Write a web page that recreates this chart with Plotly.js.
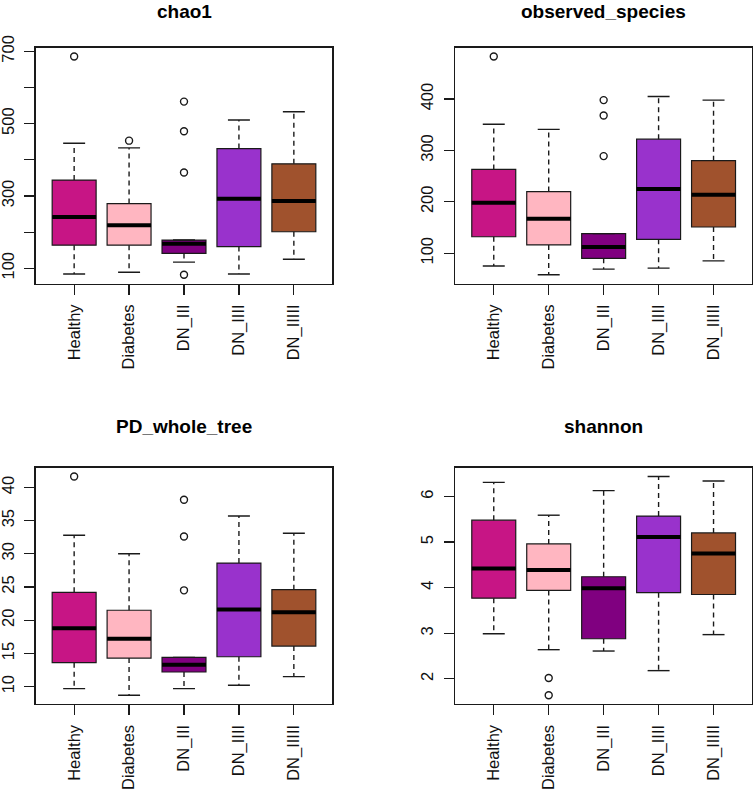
<!DOCTYPE html>
<html>
<head>
<meta charset="utf-8">
<script src="https://cdn.plot.ly/plotly-3.0.1.min.js"></script>
<style>
  body { margin: 0; background: #fff; }
  #plot { width: 753px; height: 789px; }
</style>
</head>
<body>
<div id="plot"></div>
<script>
// group names (same for all four panels)
const groups = ["Healthy", "Diabetes", "DN_III", "DN_IIII", "DN_IIIII"];

// chao1 box stats
const chaoLow  = [84, 89, 117, 84, 125];
const chaoQ1   = [164, 164, 141, 160, 201];
const chaoMed  = [242, 219, 168, 292, 286];
const chaoQ3   = [344, 279, 178, 431, 389];
const chaoHigh = [446, 433, 178, 510, 533];
const chaoOutGroup = ["Healthy", "Diabetes", "DN_III", "DN_III", "DN_III", "DN_III"];
const chaoOutVal   = [686, 453, 561, 479, 365, 82];
const chaoTicks    = [100, 200, 300, 400, 500, 600, 700];
const chaoTickText = ["100", "", "300", "", "500", "", "700"];

// observed_species
const obsLow  = [75, 58, 69, 71, 85];
const obsQ1   = [132, 116, 90, 127, 151];
const obsMed  = [198, 167, 112, 225, 214];
const obsQ3   = [263, 220, 138, 322, 280];
const obsHigh = [351, 341, 138, 405, 398];
const obsOutGroup = ["Healthy", "DN_III", "DN_III", "DN_III"];
const obsOutVal   = [483, 398, 368, 289];
const obsTicks    = [100, 200, 300, 400];
const obsTickText = ["100", "200", "300", "400"];

// PD_whole_tree
const pdLow  = [9.7, 8.7, 9.7, 10.2, 11.5];
const pdQ1   = [13.6, 14.3, 12.2, 14.5, 16.1];
const pdMed  = [18.8, 17.2, 13.3, 21.6, 21.2];
const pdQ3   = [24.2, 21.5, 14.4, 28.6, 24.6];
const pdHigh = [32.8, 30.0, 14.4, 35.7, 33.1];
const pdOutGroup = ["Healthy", "DN_III", "DN_III", "DN_III"];
const pdOutVal   = [41.65, 38.15, 32.6, 24.5];
const pdTicks    = [10, 15, 20, 25, 30, 35, 40];
const pdTickText = ["10", "15", "20", "25", "30", "35", "40"];

// shannon
const shLow  = [2.99, 2.64, 2.61, 2.18, 2.97];
const shQ1   = [3.77, 3.94, 2.88, 3.89, 3.85];
const shMed  = [4.42, 4.39, 3.99, 5.11, 4.75];
const shQ3   = [5.48, 4.96, 4.24, 5.57, 5.20];
const shHigh = [6.31, 5.59, 6.13, 6.44, 6.34];
const shOutGroup = ["Diabetes", "Diabetes"];
const shOutVal   = [2.02, 1.64];
const shTicks    = [2, 3, 4, 5, 6];
const shTickText = ["2", "3", "4", "5", "6"];

// box fill colours, one per group
const boxColors = ["#C71585", "#FFB6C1", "#800080", "#9932CC", "#A0522D"];

const W = 753, H = 789;
const ink = "#1a1a1a";
const font = "Liberation Sans, Arial, Helvetica, sans-serif";

let data = [];
let layout = {
    width: W, height: H,
    margin: {l: 0, r: 0, t: 0, b: 0},
    paper_bgcolor: "#fff", plot_bgcolor: "#fff",
    showlegend: false,
    font: {family: font, color: ink},
    annotations: []
};

// panel boxes in pixels: left, right, top, bottom; titleTop = top of the title's text box
const panels = [
    {name: "chao1", px: [35.7, 332.3, 47.7, 283.5], low: chaoLow, q1: chaoQ1, med: chaoMed, q3: chaoQ3, high: chaoHigh,
     outG: chaoOutGroup, outV: chaoOutVal, ticks: chaoTicks, tickText: chaoTickText, titleTop: 0},
    {name: "observed_species", px: [455.3, 752, 47.7, 283.5], low: obsLow, q1: obsQ1, med: obsMed, q3: obsQ3, high: obsHigh,
     outG: obsOutGroup, outV: obsOutVal, ticks: obsTicks, tickText: obsTickText, titleTop: 0},
    {name: "PD_whole_tree", px: [35.7, 332.3, 467.7, 704], low: pdLow, q1: pdQ1, med: pdMed, q3: pdQ3, high: pdHigh,
     outG: pdOutGroup, outV: pdOutVal, ticks: pdTicks, tickText: pdTickText, titleTop: 415},
    {name: "shannon", px: [455.3, 752, 467.7, 704], low: shLow, q1: shQ1, med: shMed, q3: shQ3, high: shHigh,
     outG: shOutGroup, outV: shOutVal, ticks: shTicks, tickText: shTickText, titleTop: 415}
];

panels.forEach(function(p, k) {
    let xa = "x" + (k === 0 ? "" : k + 1);
    let ya = "y" + (k === 0 ? "" : k + 1);
    let pos = groups.map((g, i) => i + 1);

    // boxes (whiskers drawn separately so they can be dashed)
    groups.forEach(function(g, i) {
        data.push({
            type: "box", x: [pos[i]],
            q1: [p.q1[i]], median: [p.med[i]], q3: [p.q3[i]],
            lowerfence: [p.q1[i]], upperfence: [p.q3[i]],
            width: 0.8, fillcolor: boxColors[i],
            line: {color: ink, width: 1.2},
            boxpoints: false, hoverinfo: "skip",
            xaxis: xa, yaxis: ya
        });
    });

    // dashed whiskers, solid staples, thick medians
    let wx = [], wy = [], sx = [], sy = [], mx = [], my = [];
    groups.forEach(function(g, i) {
        wx.push(pos[i], pos[i], null, pos[i], pos[i], null);
        wy.push(p.q3[i], p.high[i], null, p.q1[i], p.low[i], null);
        sx.push(pos[i] - 0.2, pos[i] + 0.2, null, pos[i] - 0.2, pos[i] + 0.2, null);
        sy.push(p.high[i], p.high[i], null, p.low[i], p.low[i], null);
        mx.push(pos[i] - 0.4, pos[i] + 0.4, null);
        my.push(p.med[i], p.med[i], null);
    });
    data.push({type: "scatter", mode: "lines", x: wx, y: wy, line: {color: ink, width: 1.4, dash: "5px,4px"},
               hoverinfo: "skip", xaxis: xa, yaxis: ya});
    data.push({type: "scatter", mode: "lines", x: sx, y: sy, line: {color: ink, width: 1.4},
               hoverinfo: "skip", xaxis: xa, yaxis: ya});
    data.push({type: "scatter", mode: "lines", x: mx, y: my, line: {color: "#000", width: 4},
               hoverinfo: "skip", xaxis: xa, yaxis: ya});

    // outliers
    data.push({type: "scatter", mode: "markers",
               x: p.outG.map(g => groups.indexOf(g) + 1), y: p.outV,
               marker: {symbol: "circle-open", size: 7, color: ink, line: {width: 1.4}},
               hoverinfo: "skip", xaxis: xa, yaxis: ya});

    // R-style axis range: data range padded by 4%
    let all = p.low.concat(p.high, p.outV);
    let lo = Math.min(...all), hi = Math.max(...all), pad = (hi - lo) * 0.04;

    let axisCommon = {
        showgrid: false, zeroline: false,
        showline: true, mirror: true, linecolor: ink, linewidth: 1.3,
        ticks: "outside", ticklen: 10, tickwidth: 1.2, tickcolor: ink,
        tickfont: {size: 16.5, color: "#111", family: font},
        tickangle: -90, fixedrange: true
    };
    layout["xaxis" + (k === 0 ? "" : k + 1)] = Object.assign({}, axisCommon, {
        domain: [p.px[0] / W, p.px[1] / W],
        anchor: ya,
        range: [0.3, 5.7],
        tickmode: "array", tickvals: pos, ticktext: groups,
        ticklabelstandoff: 3
    });
    layout["yaxis" + (k === 0 ? "" : k + 1)] = Object.assign({}, axisCommon, {
        domain: [1 - p.px[3] / H, 1 - p.px[2] / H],
        anchor: xa,
        range: [lo - pad, hi + pad],
        tickmode: "array", tickvals: p.ticks, ticktext: p.tickText,
        ticklabelstandoff: 4
    });

    layout.annotations.push({
        text: "<b>" + p.name + "</b>", showarrow: false,
        xref: "paper", yref: "paper",
        x: (p.px[0] + p.px[1]) / 2 / W, y: 1 - p.titleTop / H,
        xanchor: "center", yanchor: "top", borderpad: 0,
        font: {size: 19, color: "#000", family: font}
    });
});

Plotly.newPlot("plot", data, layout, {displayModeBar: false, staticPlot: true});
</script>
</body>
</html>
